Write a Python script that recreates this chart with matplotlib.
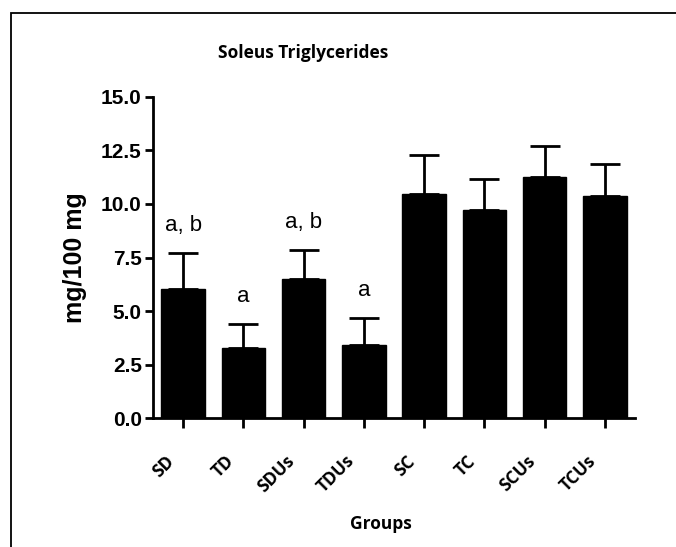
import matplotlib
matplotlib.use("Agg")
import matplotlib.pyplot as plt
import matplotlib.transforms as mtransforms
from matplotlib.patches import Rectangle

grupos = ["SD", "TD", "SDUs", "TDUs", "SC", "TC", "SCUs", "TCUs"]
medias = [6.03, 3.27, 6.50, 3.41, 10.47, 9.72, 11.26, 10.37]
errores = [1.68, 1.12, 1.35, 1.26, 1.82, 1.45, 1.45, 1.50]
letras = ["a, b", "a", "a, b", "a", "", "", "", ""]

fig = plt.figure(figsize=(6.76, 5.47), dpi=100)
ax = fig.add_axes([0.2263, 0.2358, 0.713, 0.5869])

# marco de la figura (solo arriba e izquierda visibles)
fig.patches.append(Rectangle((11 / 676, -0.1), 1.2, 1.1 - 12.5 / 547,
                             transform=fig.transFigure, fill=False,
                             edgecolor="black", linewidth=1.3))

x = range(len(grupos))
ax.bar(x, medias, width=0.72, color="black", edgecolor="black", zorder=3)
ax.errorbar(x, medias, yerr=[[0] * len(grupos), errores], fmt="none",
            ecolor="black", elinewidth=2, capsize=11, capthick=2, zorder=2)

for i, (m, e, t) in enumerate(zip(medias, errores, letras)):
    if t:
        ax.text(i, m + e + 1.3, t, ha="center", va="center",
                fontsize=16, family="Liberation Sans")

ax.set_xlim(-0.5, 7.5)
ax.set_ylim(0, 15)
ax.set_yticks([0, 2.5, 5, 7.5, 10, 12.5, 15])
ax.set_yticklabels(["0.0", "2.5", "5.0", "7.5", "10.0", "12.5", "15.0"],
                   family="Liberation Sans", fontweight="bold", fontsize=15)
ax.set_xticks(list(x))
ax.set_xticklabels([])

# etiquetas del eje x giradas, desplazadas a la izquierda del tick
desplazar = mtransforms.ScaledTranslation(-8.5 / 72, -29 / 72, fig.dpi_scale_trans)
for i, g in enumerate(grupos):
    ax.text(i, 0, g, rotation=45, ha="right", va="center",
            rotation_mode="anchor", family="Open Sans", fontweight="bold",
            fontsize=12.5, transform=ax.get_xaxis_transform() + desplazar)

ax.spines["top"].set_visible(False)
ax.spines["right"].set_visible(False)
ax.spines["left"].set_linewidth(2)
ax.spines["bottom"].set_linewidth(2)
ax.tick_params(axis="y", length=6, width=2, pad=2)
ax.tick_params(axis="x", length=7, width=2)

ax.set_ylabel("mg/100 mg", family="Liberation Sans", fontweight="bold",
              fontsize=18, labelpad=10)

fig.text(303 / 676, 1 - 53 / 547, "Soleus Triglycerides", ha="center",
         va="center", family="Open Sans", fontweight="bold", fontsize=12.5)
fig.text(381 / 676, 1 - 524 / 547, "Groups", ha="center", va="center",
         family="Open Sans", fontweight="bold", fontsize=12.5)

fig.savefig("out.png", dpi=100)
